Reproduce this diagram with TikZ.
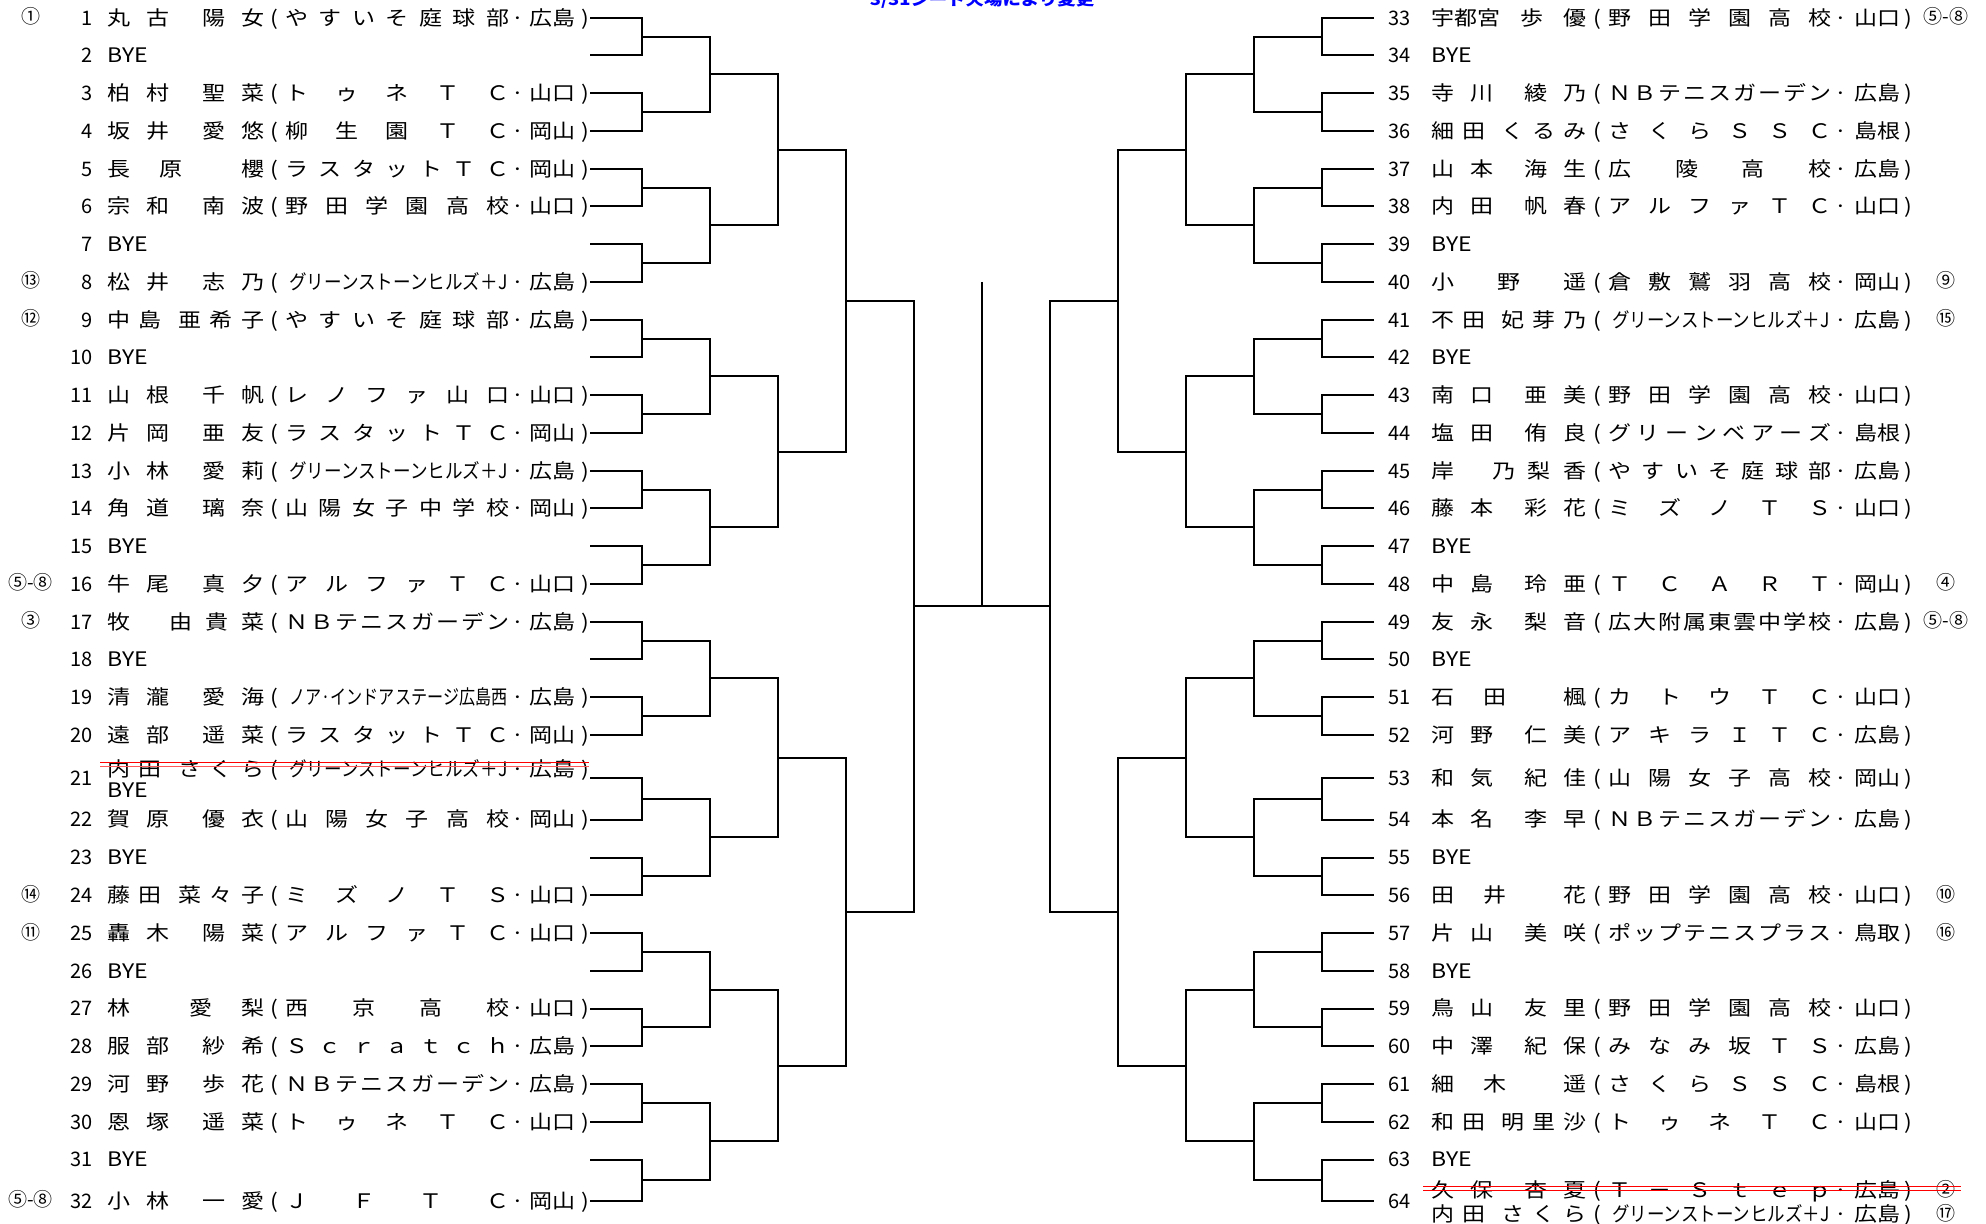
\documentclass[tikz,border=0pt]{standalone}
\usepackage{fontspec}
\usepackage{graphicx}
\usetikzlibrary{calc}
\newfontfamily\jp[FakeStretch=1.15]{Noto Sans CJK JP}
\newfontfamily\jpn{Noto Sans CJK JP}
\newdimen\px \px=0.5pt
% distributed text: tokens spread with \hfill; * = empty slot
\def\dstO#1{\ifx*#1\hbox{}\else#1\fi}
\def\dstA#1{\ifx\relax#1\else\dstO#1\expandafter\dstB\fi}
\def\dstB#1{\ifx\relax#1\else\hfill\dstO#1\expandafter\dstB\fi}
\newcommand\dist[2]{\hbox to #1\px{\dstA#2\relax}}
\newcommand\sq[3]{\hbox to #1\px{\hfill\resizebox{#2\px}{\height}{#3}\hskip2\px}}
% left entry: name 157, ( 21, club 224, dot 17, pref 53, ) 12
\newcommand\Lent[3]{\hbox{\dist{157}{#1}\hbox to21\px{\hss(\hss}\dist{224}{#2}\hbox to17\px{\hss·\hss}\hbox to53\px{\hss#3\hss}\hbox to12\px{\hss)\hss}}}
\newcommand\LentS[3]{\hbox{\dist{157}{#1}\hbox to21\px{\hss(\hss}\sq{224}{218}{#2}\hbox to17\px{\hss·\hss}\hbox to53\px{\hss#3\hss}\hbox to12\px{\hss)\hss}}}
% right entry: name 155, ( 22, club 223, dot 20, pref 52, ) 10
\newcommand\Rent[3]{\hbox{\dist{155}{#1}\hbox to22\px{\hss(\hss}\dist{223}{#2}\hbox to20\px{\hss·\hss}\hbox to52\px{\hss#3\hss}\hbox to10\px{\hss)\hss}}}
\newcommand\RentN[3]{\hbox{\hbox to155\px{#1}\hbox to22\px{\hss(\hss}\dist{223}{#2}\hbox to20\px{\hss·\hss}\hbox to52\px{\hss#3\hss}\hbox to10\px{\hss)\hss}}}
\newcommand\RentS[3]{\hbox{\dist{155}{#1}\hbox to22\px{\hss(\hss}\sq{223}{217}{#2}\hbox to20\px{\hss·\hss}\hbox to52\px{\hss#3\hss}\hbox to10\px{\hss)\hss}}}
\def\Ylist{{17.7,55.45,93.2,130.95,168.7,206.45,244.2,281.95,319.7,357.45,395.2,432.95,470.7,508.45,546.2,583.95,621.7,659.45,697.2,734.95,777.7,819.5,857.5,895.25,933,970.75,1008.5,1046.25,1084,1121.75,1159.5,1200.7}}
\def\Lx{{590,642,710,778,846,914}}
\tikzset{
  brk/.style={line width=1pt, line join=miter},
  txt/.style={inner sep=0pt, font=\jp\fontsize{10}{12}\selectfont},
  num/.style={inner sep=0pt, font=\jpn\fontsize{10}{12}\selectfont},
  seed/.style={inner sep=0pt, font=\jpn\fontsize{9.5}{11}\selectfont},
  strikea/.style={draw=red, line width=0.6pt},
  strikeb/.style={draw=red!65, line width=0.6pt},
  ttl/.style={inner sep=0pt, text=blue, font=\jp\bfseries\fontsize{8}{10}\selectfont}
}
\newcommand\LRow[3]{%
  \pgfmathsetmacro\yy{\Ylist[#1-1]}%
  \node[num,anchor=base east] (nL#1) at (93,\yy+7.4) {#1};
  \node[txt,anchor=base west] (eL#1) at (107,\yy+7.4) {#3};
  \if\relax\detokenize{#2}\relax\else\node[seed,anchor=base] (sL#1) at (30.5,\yy+6) {#2};\fi
}
\newcommand\RRow[3]{%
  \pgfmathtruncatemacro\ri{#1-33}%
  \pgfmathsetmacro\yy{\Ylist[\ri]}%
  \node[num,anchor=base west] (nR#1) at (1388,\yy+7.4) {#1};
  \node[txt,anchor=base west] (eR#1) at (1431,\yy+7.4) {#3};
  \if\relax\detokenize{#2}\relax\else\node[seed,anchor=base] (sR#1) at (1946,\yy+6) {#2};\fi
}
\begin{document}
\begin{tikzpicture}[x=0.5pt,y=-0.5pt]
\useasboundingbox (0,0) rectangle (1986,1224);
% ---------- bracket ----------
\foreach \i in {1,...,32}{
  \pgfmathsetmacro\yy{\Ylist[\i-1]}
  \coordinate (L0-\i) at (590,\yy);
  \coordinate (R0-\i) at (1374,\yy);
}
\foreach \r in {1,...,5}{
  \pgfmathtruncatemacro\pr{\r-1}
  \pgfmathtruncatemacro\nn{32/2^\r}
  \pgfmathsetmacro\xl{\Lx[\r]}
  \pgfmathsetmacro\xr{1964-\xl}
  \coordinate (XL\r) at (\xl,0);
  \coordinate (XR\r) at (\xr,0);
  \foreach \k in {1,...,\nn}{
    \pgfmathtruncatemacro\ka{2*\k-1}
    \pgfmathtruncatemacro\kb{2*\k}
    \coordinate (L\r-\k) at ($(L\pr-\ka -| XL\r)!0.5!(L\pr-\kb -| XL\r)$);
    \coordinate (R\r-\k) at ($(R\pr-\ka -| XR\r)!0.5!(R\pr-\kb -| XR\r)$);
    \draw[brk] (L\pr-\ka) -| (L\r-\k) |- (L\pr-\kb);
    \draw[brk] (R\pr-\ka) -| (R\r-\k) |- (R\pr-\kb);
  }
}
\coordinate (ctop) at (982,282);
\coordinate (cbot) at (ctop |- L5-1);
\draw[brk] (L5-1) -- (R5-1);
\draw[brk] (ctop) -- (cbot);
% ---------- title ----------
\node[ttl,anchor=base] (title) at (982,6) {3/31シード欠場により変更};
% ---------- left ----------
\LRow{1}{①}{\Lent{丸古*陽女}{やすいそ庭球部}{広島}}
\LRow{2}{}{BYE}
\LRow{3}{}{\Lent{柏村*聖菜}{トゥネＴＣ}{山口}}
\LRow{4}{}{\Lent{坂井*愛悠}{柳生園ＴＣ}{岡山}}
\LRow{5}{}{\Lent{長原*櫻}{ラスタットＴＣ}{岡山}}
\LRow{6}{}{\Lent{宗和*南波}{野田学園高校}{山口}}
\LRow{7}{}{BYE}
\LRow{8}{⑬}{\LentS{松井*志乃}{グリーンストーンヒルズ＋J}{広島}}
\LRow{9}{⑫}{\Lent{中島*亜希子}{やすいそ庭球部}{広島}}
\LRow{10}{}{BYE}
\LRow{11}{}{\Lent{山根*千帆}{レノファ山口}{山口}}
\LRow{12}{}{\Lent{片岡*亜友}{ラスタットＴＣ}{岡山}}
\LRow{13}{}{\LentS{小林*愛莉}{グリーンストーンヒルズ＋J}{広島}}
\LRow{14}{}{\Lent{角道*璃奈}{山陽女子中学校}{岡山}}
\LRow{15}{}{BYE}
\LRow{16}{⑤-⑧}{\Lent{牛尾*真夕}{アルファＴＣ}{山口}}
\LRow{17}{③}{\Lent{牧**由貴菜}{ＮＢテニスガーデン}{広島}}
\LRow{18}{}{BYE}
\LRow{19}{}{\LentS{清瀧*愛海}{ノア·インドアステージ広島西}{広島}}
\LRow{20}{}{\Lent{遠部*遥菜}{ラスタットＴＣ}{岡山}}
% row 21 (changed)
\node[num,anchor=base east] (nL21) at (93,777.7+7.4) {21};
\node[txt,anchor=base west] (eL21x) at (107,769+7.4) {\LentS{内田*さくら}{グリーンストーンヒルズ＋J}{広島}};
\node[txt,anchor=base west] (eL21) at (107,790+7.4) {BYE};
\coordinate (ka1) at (100,762.7); \coordinate (ka2) at (589,762.7);
\coordinate (kb1) at (100,766.7); \coordinate (kb2) at (589,766.7);
\draw[strikea] (ka1) -- (ka2);
\draw[strikeb] (kb1) -- (kb2);
\LRow{22}{}{\Lent{賀原*優衣}{山陽女子高校}{岡山}}
\LRow{23}{}{BYE}
\LRow{24}{⑭}{\Lent{藤田*菜々子}{ミズノＴＳ}{山口}}
\LRow{25}{⑪}{\Lent{轟木*陽菜}{アルファＴＣ}{山口}}
\LRow{26}{}{BYE}
\LRow{27}{}{\Lent{林*愛梨}{西京高校}{山口}}
\LRow{28}{}{\Lent{服部*紗希}{Ｓｃｒａｔｃｈ}{広島}}
\LRow{29}{}{\Lent{河野*歩花}{ＮＢテニスガーデン}{広島}}
\LRow{30}{}{\Lent{恩塚*遥菜}{トゥネＴＣ}{山口}}
\LRow{31}{}{BYE}
\LRow{32}{⑤-⑧}{\Lent{小林*一愛}{ＪＦＴＣ}{岡山}}
% ---------- right ----------
\RRow{33}{⑤-⑧}{\RentN{宇都宮\hfill 歩\hfill 優}{野田学園高校}{山口}}
\RRow{34}{}{BYE}
\RRow{35}{}{\Rent{寺川*綾乃}{ＮＢテニスガーデン}{広島}}
\RRow{36}{}{\Rent{細田*くるみ}{さくらＳＳＣ}{島根}}
\RRow{37}{}{\Rent{山本*海生}{広陵高校}{広島}}
\RRow{38}{}{\Rent{内田*帆春}{アルファＴＣ}{山口}}
\RRow{39}{}{BYE}
\RRow{40}{⑨}{\Rent{小*野*遥}{倉敷鷲羽高校}{岡山}}
\RRow{41}{⑮}{\RentS{不田*妃芽乃}{グリーンストーンヒルズ＋J}{広島}}
\RRow{42}{}{BYE}
\RRow{43}{}{\Rent{南口*亜美}{野田学園高校}{山口}}
\RRow{44}{}{\Rent{塩田*侑良}{グリーンベアーズ}{島根}}
\RRow{45}{}{\Rent{岸**乃梨香}{やすいそ庭球部}{広島}}
\RRow{46}{}{\Rent{藤本*彩花}{ミズノＴＳ}{山口}}
\RRow{47}{}{BYE}
\RRow{48}{④}{\Rent{中島*玲亜}{ＴＣＡＲＴ}{岡山}}
\RRow{49}{⑤-⑧}{\Rent{友永*梨音}{広大附属東雲中学校}{広島}}
\RRow{50}{}{BYE}
\RRow{51}{}{\Rent{石田*楓}{カトウＴＣ}{山口}}
\RRow{52}{}{\Rent{河野*仁美}{アキラＩＴＣ}{広島}}
\RRow{53}{}{\Rent{和気*紀佳}{山陽女子高校}{岡山}}
\RRow{54}{}{\Rent{本名*李早}{ＮＢテニスガーデン}{広島}}
\RRow{55}{}{BYE}
\RRow{56}{⑩}{\Rent{田井*花}{野田学園高校}{山口}}
\RRow{57}{⑯}{\Rent{片山*美咲}{ポップテニスプラス}{鳥取}}
\RRow{58}{}{BYE}
\RRow{59}{}{\Rent{鳥山*友里}{野田学園高校}{山口}}
\RRow{60}{}{\Rent{中澤*紀保}{みなみ坂ＴＳ}{広島}}
\RRow{61}{}{\Rent{細木*遥}{さくらＳＳＣ}{島根}}
\RRow{62}{}{\Rent{和田*明里沙}{トゥネＴＣ}{山口}}
\RRow{63}{}{BYE}
% row 64 (changed)
\node[num,anchor=base west] (nR64) at (1388,1201.5+7.4) {64};
\node[txt,anchor=base west] (eR64x) at (1431,1190+7.4) {\Rent{久保*杏夏}{Ｔ－Ｓｔｅｐ}{広島}};
\node[seed,anchor=base] (sR64x) at (1946,1190+6) {②};
\node[txt,anchor=base west] (eR64) at (1431,1214+7.4) {\RentS{内田*さくら}{グリーンストーンヒルズ＋J}{広島}};
\node[seed,anchor=base] (sR64) at (1946,1214+6) {⑰};
\coordinate (kc1) at (1423,1186.7); \coordinate (kc2) at (1961,1186.7);
\coordinate (kd1) at (1423,1190.7); \coordinate (kd2) at (1961,1190.7);
\draw[strikea] (kc1) -- (kc2);
\draw[strikea] (kd1) -- (kd2);
\end{tikzpicture}
\end{document}
